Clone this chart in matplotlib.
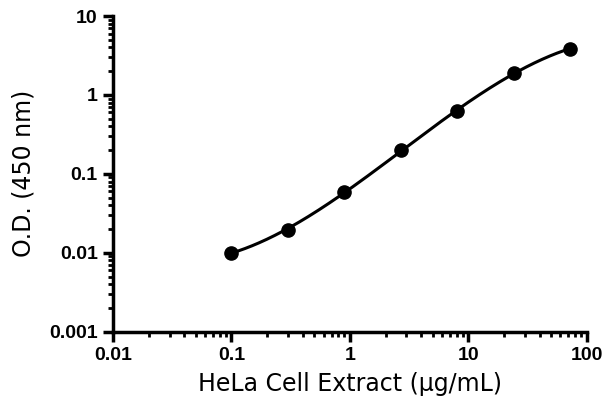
import numpy as np
import matplotlib
matplotlib.use("Agg")
import matplotlib.pyplot as plt
from matplotlib.ticker import LogLocator, FixedLocator, NullFormatter

concentration = [0.1, 0.3, 0.9, 2.7, 8.1, 24.3, 72.9]
od_450 = [0.010, 0.0197, 0.059, 0.20, 0.62, 1.91, 3.88]
x_ticks = [0.01, 0.1, 1, 10, 100]
x_tick_labels = ["0.01", "0.1", "1", "10", "100"]
y_ticks = [0.001, 0.01, 0.1, 1, 10]
y_tick_labels = ["0.001", "0.01", "0.1", "1", "10"]

fig = plt.figure(figsize=(6.08, 4.13), dpi=100)
ax = fig.add_axes([0.186, 0.197, 0.779, 0.764])

# smooth fitted curve in log-log space
lx = np.log10(concentration)
ly = np.log10(od_450)
coef = np.polyfit(lx, ly, 3)
xs = np.linspace(lx[0], lx[-1], 300)
ax.plot(10 ** xs, 10 ** np.polyval(coef, xs), color="black", lw=2.2, zorder=2)
ax.plot(concentration, od_450, "o", color="black", ms=9.5, zorder=3)

ax.set_xscale("log")
ax.set_yscale("log")
ax.set_xlim(0.01, 100)
ax.set_ylim(0.001, 10)

for s in ["top", "right"]:
    ax.spines[s].set_visible(False)
for s in ["left", "bottom"]:
    ax.spines[s].set_linewidth(2.5)

ax.xaxis.set_major_locator(FixedLocator(x_ticks))
ax.set_xticklabels(x_tick_labels)
ax.yaxis.set_major_locator(FixedLocator(y_ticks))
ax.set_yticklabels(y_tick_labels)
ax.xaxis.set_minor_locator(LogLocator(base=10, subs=np.arange(2, 10)))
ax.yaxis.set_minor_locator(LogLocator(base=10, subs=np.arange(2, 10)))
ax.xaxis.set_minor_formatter(NullFormatter())
ax.yaxis.set_minor_formatter(NullFormatter())

ax.tick_params(which="major", length=7, width=2.5, direction="out", pad=4)
ax.tick_params(which="minor", length=3.5, width=2.0, direction="out")
for lab in ax.get_xticklabels() + ax.get_yticklabels():
    lab.set_fontfamily("Liberation Sans")
    lab.set_fontweight("bold")
    lab.set_fontsize(14)

ax.set_xlabel("HeLa Cell Extract (µg/mL)", fontsize=17, family="DejaVu Sans", labelpad=6)
ax.set_ylabel("O.D. (450 nm)", fontsize=17, family="DejaVu Sans", labelpad=10)

fig.savefig("out.png", dpi=100)
